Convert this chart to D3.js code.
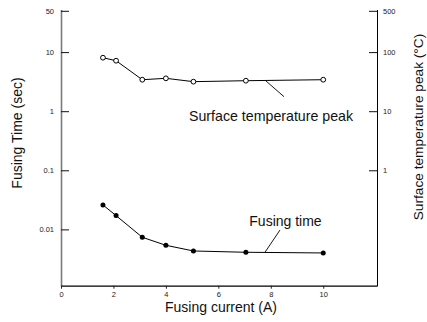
<!DOCTYPE html>
<html>
<head>
<meta charset="utf-8">
<script src="https://cdn.jsdelivr.net/npm/d3@7"></script>
<style>
  html, body { margin: 0; padding: 0; background: #fff; }
  svg { display: block; font-family: "Liberation Sans", Arial, Helvetica, sans-serif; }
</style>
</head>
<body>
<div id="chart"></div>
<script>
// ---- data ----
const currents = [1.6, 2.1, 3.1, 4.0, 5.05, 7.05, 10];
const fusingTime = [0.0259, 0.0171, 0.00735, 0.00538, 0.00431, 0.0041, 0.00399];
const surfaceTemp = [80.4, 71.5, 34.1, 36.0, 31.6, 32.8, 34.1];
const leftTicks = [50, 10, 1, 0.1, 0.01];
const leftTickLabels = ["50", "10", "1", "0.1", "0.01"];
const rightTicks = [500, 100, 10, 1];
const rightTickLabels = ["500", "100", "10", "1"];
const xTicks = [0, 2, 4, 6, 8, 10];
const xTitle = "Fusing current (A)";
const yLeftTitle = "Fusing Time (sec)";
const yRightTitle = "Surface temperature peak (°C)";
const labelTemp = "Surface temperature peak";
const labelFuse = "Fusing time";

const W = 427, H = 322;
const svg = d3.select("#chart").append("svg").attr("width", W).attr("height", H);

const x = d3.scaleLinear().domain([0, 12.05]).range([61, 377]);
const yL = d3.scaleLog().domain([Math.pow(10, -2.953), Math.pow(10, 1.721)]).range([285.7, 9.5]);
const yR = d3.scaleLog().domain([Math.pow(10, -1.953), Math.pow(10, 2.721)]).range([285.7, 9.5]);

// left axis
const gL = svg.append("g").attr("transform", "translate(61,0)")
  .call(d3.axisLeft(yL).tickValues(leftTicks).tickFormat((d, i) => leftTickLabels[i])
    .tickSizeInner(-8).tickSizeOuter(0).tickPadding(7));
gL.select(".domain").attr("stroke", "#7a7a7a").attr("stroke-width", 1.6);
gL.selectAll(".tick line").attr("stroke", "#111");
gL.selectAll(".tick text").attr("font-size", 7.5).attr("fill", "#222")
  .attr("font-family", "Liberation Sans, Arial, sans-serif");

// right axis
const gR = svg.append("g").attr("transform", "translate(377,0)")
  .call(d3.axisRight(yR).tickValues(rightTicks).tickFormat((d, i) => rightTickLabels[i])
    .tickSizeInner(-8).tickSizeOuter(0).tickPadding(6));
gR.select(".domain").attr("stroke", "#000").attr("stroke-width", 1);
gR.selectAll(".tick line").attr("stroke", "#111");
gR.selectAll(".tick text").attr("font-size", 7.5).attr("fill", "#222")
  .attr("font-family", "Liberation Sans, Arial, sans-serif");

// bottom axis
const gB = svg.append("g").attr("transform", "translate(0,285.7)")
  .call(d3.axisBottom(x).tickValues(xTicks).tickFormat(d3.format("d"))
    .tickSizeInner(3).tickSizeOuter(0).tickPadding(3));
gB.select(".domain").attr("stroke", "#000").attr("stroke-width", 1.2);
gB.selectAll(".tick line").attr("stroke", "#222");
gB.selectAll(".tick text").attr("font-size", 7.5).attr("fill", "#222")
  .attr("font-family", "Liberation Sans, Arial, sans-serif");

// titles
svg.append("text").attr("x", 221).attr("y", 311.5).attr("text-anchor", "middle")
  .attr("font-size", 14).attr("fill", "#111").text(xTitle);
svg.append("text").attr("transform", "translate(22,133) rotate(-90)").attr("text-anchor", "middle")
  .attr("font-size", 14).attr("fill", "#111").text(yLeftTitle);
svg.append("text").attr("transform", "translate(423,127) rotate(-90)").attr("text-anchor", "middle")
  .attr("font-size", 13.7).attr("fill", "#111").text(yRightTitle);

// series lines
const tempData = currents.map((c, i) => ({ x: c, y: surfaceTemp[i] }));
const fuseData = currents.map((c, i) => ({ x: c, y: fusingTime[i] }));

svg.append("path").datum(tempData)
  .attr("d", d3.line().x(d => x(d.x)).y(d => yR(d.y)))
  .attr("fill", "none").attr("stroke", "#000").attr("stroke-width", 1);
svg.append("path").datum(fuseData)
  .attr("d", d3.line().x(d => x(d.x)).y(d => yL(d.y)))
  .attr("fill", "none").attr("stroke", "#000").attr("stroke-width", 1);

svg.selectAll("circle.t").data(tempData).enter().append("circle")
  .attr("class", "t").attr("cx", d => x(d.x)).attr("cy", d => yR(d.y)).attr("r", 2.4)
  .attr("fill", "#fff").attr("stroke", "#000").attr("stroke-width", 1);
svg.selectAll("circle.f").data(fuseData).enter().append("circle")
  .attr("class", "f").attr("cx", d => x(d.x)).attr("cy", d => yL(d.y)).attr("r", 2.5)
  .attr("fill", "#000");

// annotations
svg.append("line").attr("x1", 265.7).attr("y1", yR(surfaceTemp[5] * 1.0)).attr("x2", 284).attr("y2", 96.7)
  .attr("stroke", "#000").attr("stroke-width", 0.9);
svg.append("text").attr("x", 189).attr("y", 120.7).attr("font-size", 14.2).attr("fill", "#111").text(labelTemp);

svg.append("line").attr("x1", 280).attr("y1", 230).attr("x2", 265).attr("y2", yL(fusingTime[5]))
  .attr("stroke", "#000").attr("stroke-width", 0.9);
svg.append("text").attr("x", 249.3).attr("y", 226).attr("font-size", 14).attr("fill", "#111").text(labelFuse);
</script>
</body>
</html>
